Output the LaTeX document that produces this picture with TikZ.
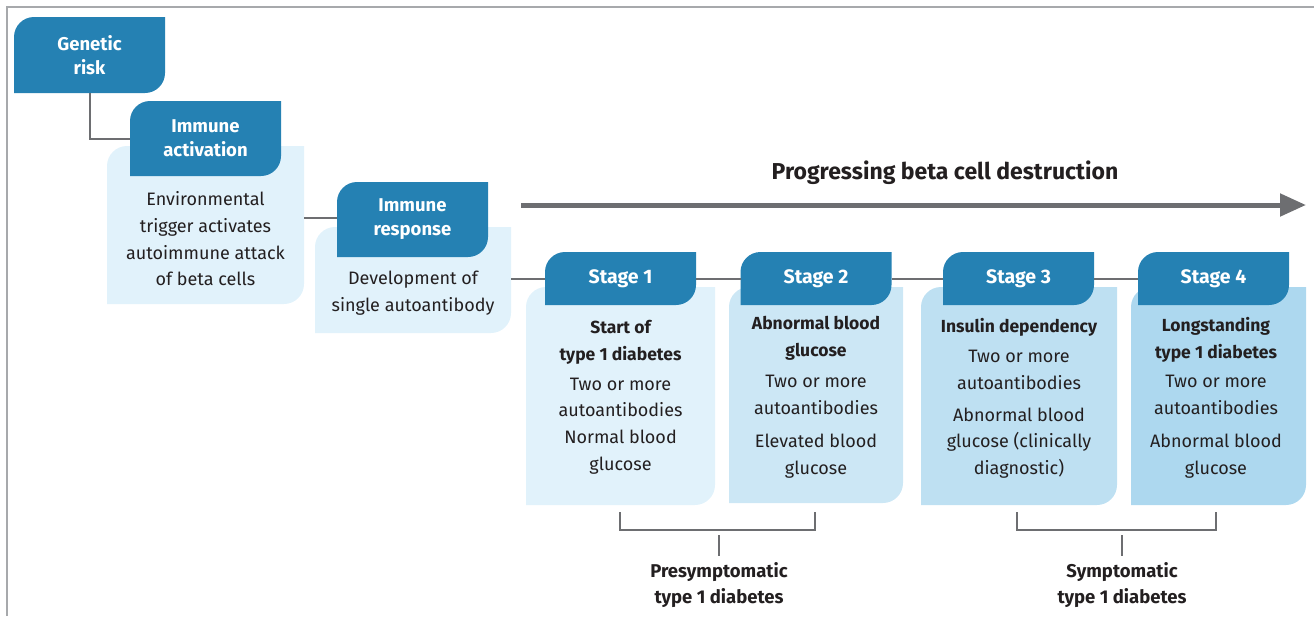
\documentclass[tikz,border=0pt]{standalone}
\usepackage{fontspec}
\setmainfont{Fira Sans}
\usetikzlibrary{arrows.meta}
\definecolor{hdr}{RGB}{37,129,179}
\definecolor{cza}{RGB}{225,242,251}
\definecolor{czb}{RGB}{204,231,245}
\definecolor{czc}{RGB}{190,224,242}
\definecolor{czd}{RGB}{173,216,239}
\definecolor{lgray}{RGB}{109,110,113}
\definecolor{fgray}{RGB}{167,169,172}
\definecolor{txt}{RGB}{35,31,32}
\pgfdeclarelayer{bg}
\pgfsetlayers{bg,main}
\newcommand\tabfill[3]{%
  \fill[#1] (#2.south west) -- ([yshift=-#3]#2.north west) arc[start angle=180,end angle=90,radius=#3] -- (#2.north east) -- ([yshift=#3]#2.south east) arc[start angle=0,end angle=-90,radius=#3] -- cycle;}
\tikzset{
  hbox/.style={rectangle, inner sep=0pt, outer sep=0pt, align=center, text=white,
    font=\fontsize{18.5}{24}\selectfont\bfseries},
  cbox/.style={rectangle, inner sep=0pt, outer sep=0pt},
  body/.style={inner sep=0pt, align=center, text=txt, font=\fontsize{18}{26.7}\selectfont},
  bold/.style={inner sep=0pt, align=center, text=txt, font=\fontsize{17.5}{26.7}\selectfont\bfseries},
  conn/.style={draw=lgray, line width=2pt},
  lab/.style={inner sep=0pt, align=center, text=txt, font=\fontsize{18.5}{26}\selectfont\bfseries},
}
\begin{document}
\begin{tikzpicture}[x=1pt,y=-1pt]
\useasboundingbox (0,0) rectangle (1314,616);
% frame
\draw[fgray, line width=1.2pt] (7,616) -- (7,7) -- (1314,7);
% content boxes
\node[cbox, minimum width=197pt, minimum height=158pt] (CA) at (205.5,225) {};
\node[cbox, minimum width=196pt, minimum height=106pt] (CR) at (413,280) {};
\node[cbox, minimum width=189pt, minimum height=218pt] (C1) at (620.5,396) {};
\node[cbox, minimum width=174pt, minimum height=216pt] (C2) at (816,395) {};
\node[cbox, minimum width=196pt, minimum height=218pt] (C3) at (1019,396) {};
\node[cbox, minimum width=175pt, minimum height=218pt] (C4) at (1218.5,396) {};
% headers
\node[hbox, minimum width=151pt, minimum height=76pt] (G) at (89.5,55) {Genetic\\risk};
\node[hbox, minimum width=151pt, minimum height=75pt] (IA) at (205.5,138.5) {Immune\\activation};
\node[hbox, minimum width=151pt, minimum height=75pt] (IR) at (412.5,219.5) {Immune\\response};
\node[hbox, minimum width=151pt, minimum height=53pt, font=\fontsize{19.5}{24}\selectfont\bfseries] (S1) at (620.5,278.5) {Stage 1};
\node[hbox, minimum width=151pt, minimum height=53pt, font=\fontsize{19.5}{24}\selectfont\bfseries] (S2) at (816,278.5) {Stage 2};
\node[hbox, minimum width=151pt, minimum height=53pt, font=\fontsize{19.5}{24}\selectfont\bfseries] (S3) at (1018.5,278.5) {Stage 3};
\node[hbox, minimum width=151pt, minimum height=53pt, font=\fontsize{19.5}{24}\selectfont\bfseries] (S4) at (1213.5,278.5) {Stage 4};
\begin{pgfonlayer}{bg}
\tabfill{cza}{CA}{20pt}
\tabfill{cza}{CR}{20pt}
\tabfill{cza}{C1}{20pt}
\tabfill{czb}{C2}{20pt}
\tabfill{czc}{C3}{20pt}
\tabfill{czd}{C4}{20pt}
\tabfill{hdr}{G}{20pt}
\tabfill{hdr}{IA}{20pt}
\tabfill{hdr}{IR}{20pt}
\tabfill{hdr}{S1}{20pt}
\tabfill{hdr}{S2}{20pt}
\tabfill{hdr}{S3}{20pt}
\tabfill{hdr}{S4}{20pt}
\end{pgfonlayer}
% texts
\node[body] (tCA) at (205.5,239) {Environmental\\trigger activates\\autoimmune attack\\of beta cells};
\node[body] (tCR) at (413,293) {Development of\\single autoantibody};
\node[bold] (b1) at (620.5,342) {Start of\\type 1 diabetes};
\node[body] (t1) at (620.5,426) {Two or more\\autoantibodies\\Normal blood\\glucose};
\node[bold] (b2) at (816,338) {Abnormal blood\\glucose};
\node[body] (t2a) at (816,395) {Two or more\\autoantibodies};
\node[body] (t2b) at (816,456) {Elevated blood\\glucose};
\node[bold] (b3) at (1019,327) {Insulin dependency};
\node[body] (t3a) at (1019,370) {Two or more\\autoantibodies};
\node[body] (t3b) at (1019,443) {Abnormal blood\\glucose (clinically\\diagnostic)};
\node[bold] (b4) at (1216,340) {Longstanding\\type 1 diabetes};
\node[body] (t4a) at (1216,395) {Two or more\\autoantibodies};
\node[body] (t4b) at (1216,456) {Abnormal blood\\glucose};
% connectors
\draw[conn] (G.south) -- (G.south |- IA.west) -- (IA.west);
\draw[conn] (CA.east |- 0,218) -- (IR.west |- 0,218);
\draw[conn] (CR.east |- S1.west) -- (S1.west);
\draw[conn] (S1.east) -- (S2.west);
\draw[conn] (S2.east) -- (S3.west);
\draw[conn] (S3.east) -- (S4.west);
% progress arrow
\coordinate (pa) at (521,205);
\coordinate (pb) at (1306,205);
\draw[lgray, line width=5pt, -{Triangle[length=26pt,width=22pt]}] (pa) -- (pb);
\node[lab, font=\fontsize{23}{26}\selectfont\bfseries] (title) at (945,173) {Progressing beta cell destruction};
% brackets
\coordinate (pl) at (620,512);
\coordinate (pr) at (815,512);
\coordinate (ps) at (719,535);
\coordinate (pt) at (719,556);
\draw[conn] (pl) -- ++(0,18) -| (pr);
\draw[conn] (ps) -- (pt);
\node[lab, anchor=north] (pre) at (719,562) {Presymptomatic\\type 1 diabetes};
\coordinate (sl) at (1017,512);
\coordinate (sr) at (1216,512);
\coordinate (ss) at (1122,535);
\coordinate (st) at (1122,556);
\draw[conn] (sl) -- ++(0,18) -| (sr);
\draw[conn] (ss) -- (st);
\node[lab, anchor=north] (sym) at (1122,562) {Symptomatic\\type 1 diabetes};
\end{tikzpicture}
\end{document}
